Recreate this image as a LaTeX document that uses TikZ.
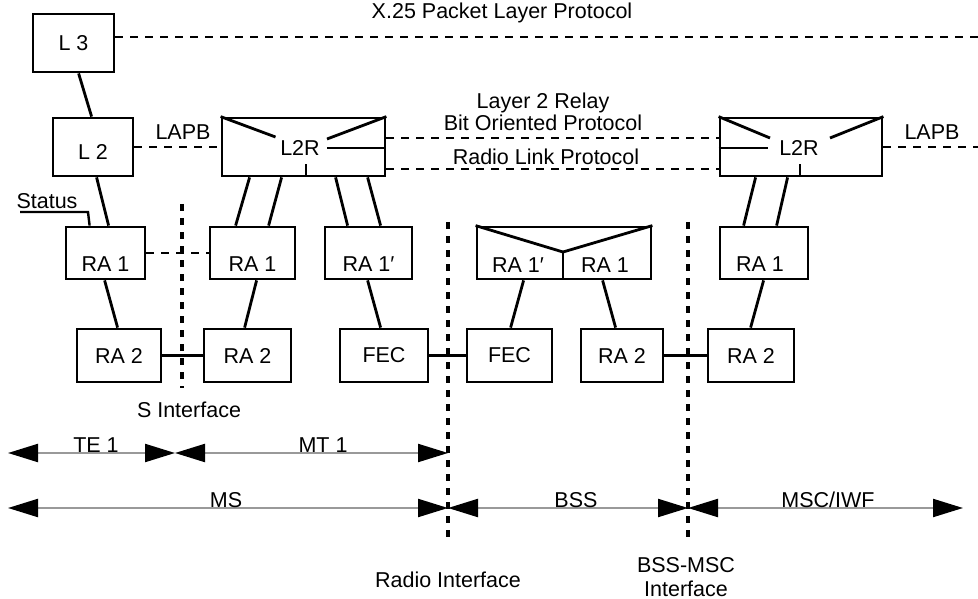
\documentclass[tikz,border=0pt]{standalone}
\usepackage{fontspec}
\setmainfont{Liberation Sans}
\usetikzlibrary{arrows.meta,calc}
\begin{document}
\begin{tikzpicture}[x=1pt,y=-1pt,
  txt/.style={font=\fontsize{21.5}{24}\selectfont, inner sep=0pt},
  box/.style={draw, line width=2.8pt, inner sep=0pt, txt},
  conn/.style={line width=2.8pt},
  dsh/.style={line width=2.8pt, dash pattern=on 8pt off 7pt},
  ifc/.style={line width=3.2pt, dash pattern=on 7pt off 7pt},
  span/.style={draw=black!40, line width=2.2pt, {Triangle[length=30pt,width=18pt,color=black,fill=black]}-{Triangle[length=30pt,width=18pt,color=black,fill=black]}},
]
\useasboundingbox (0,0) rectangle (978,599);

% ---- interface lines
\coordinate (sT) at (182,204); \coordinate (sB) at (182,388);
\coordinate (rT) at (448,222); \coordinate (rB) at (448,540);
\coordinate (bT) at (688,222); \coordinate (bB) at (688,540);
\draw[ifc] (sT) -- (sB);
\draw[ifc] (rT) -- (rB);
\draw[ifc] (bT) -- (bB);

% ---- boxes
\node[box, minimum width=81pt, minimum height=58pt] (l3) at (73.5,43) {L 3};
\node[box, minimum width=80pt, minimum height=58pt, label={[txt,yshift=-5pt]center:L 2}] (l2) at (93,147) {};
\node[box, minimum width=163pt, minimum height=58pt] (l2rl) at (303.5,147) {};
\node[box, minimum width=162pt, minimum height=58pt] (l2rr) at (801,147) {};

\node[box, minimum width=79pt, minimum height=52pt, label={[txt,yshift=-11pt]center:RA 1}] (ra1a) at (105.5,253) {};
\node[box, minimum width=85pt, minimum height=52pt, label={[txt,yshift=-11pt]center:RA 1}] (ra1b) at (252.5,253) {};
\node[box, minimum width=87pt, minimum height=52pt, label={[txt,yshift=-11pt]center:RA 1′}] (ra1p) at (368.5,253) {};
\node[box, minimum width=174pt, minimum height=52pt] (combo) at (564,253) {};
\node[box, minimum width=88pt, minimum height=52pt, label={[txt,yshift=-11pt,xshift=-4pt]center:RA 1}] (ra1r) at (764,253) {};

\node[box, minimum width=84pt, minimum height=53pt] (ra2a) at (119,355.5) {RA 2};
\node[box, minimum width=87pt, minimum height=53pt] (ra2b) at (247.5,355.5) {RA 2};
\node[box, minimum width=88pt, minimum height=53pt] (feca) at (384,355.5) {FEC};
\node[box, minimum width=85pt, minimum height=53pt] (fecb) at (509.5,355.5) {FEC};
\node[box, minimum width=82pt, minimum height=53pt] (ra2c) at (622,355.5) {RA 2};
\node[box, minimum width=86pt, minimum height=53pt] (ra2d) at (751,355.5) {RA 2};

% ---- L2R inner structure (left)
\node[txt] (l2rlt) at (300,148) {L2R};
\draw[conn] (l2rl.north west) -- ($(l2rl.center)+(-28,-10)$);
\draw[conn] (l2rl.north east) -- ($(l2rl.center)+(23.5,-8)$);
\draw[conn] ($(l2rl.center)+(23.5,1)$) -- ($(l2rl.east)+(0,1)$);
\draw[conn] ($(l2rl.south)+(2.5,-13)$) -- ($(l2rl.south)+(2.5,0)$);
% ---- L2R inner structure (right)
\node[txt] (l2rrt) at (799,148) {L2R};
\draw[conn] (l2rr.north west) -- ($(l2rr.center)+(-31,-9)$);
\draw[conn] (l2rr.north east) -- ($(l2rr.center)+(29,-9)$);
\draw[conn] ($(l2rr.west)+(0,1)$) -- ($(l2rr.center)+(-33,1)$);
\draw[conn] ($(l2rr.south)+(-1,-13)$) -- ($(l2rr.south)+(-1,0)$);
% ---- combined RA 1' / RA 1 box
\draw[conn] (combo.north west) -- ($(combo.center)+(-1,-1)$) -- (combo.north east);
\draw[conn] ($(combo.center)+(-1,-1)$) -- ($(combo.south)+(-1,0)$);
\node[txt] (cra1p) at (518,265) {RA 1′};
\node[txt] (cra1) at (605,265) {RA 1};

% ---- solid connectors
\draw[conn] ([xshift=47pt]l3.south west) -- ([xshift=40pt]l2.north west);
\draw[conn] ([xshift=45pt]l2.south west) -- ([xshift=44pt]ra1a.north west);
\draw[conn] ([xshift=40pt]ra1a.south west) -- ([xshift=42pt]ra2a.north west);
\draw[conn] (ra2a.east) -- (ra2b.west);
\draw[conn] ([xshift=48pt]ra1b.south west) -- ([xshift=42pt]ra2b.north west);
\draw[conn] ([xshift=29pt]l2rl.south west) -- ([xshift=27pt]ra1b.north west);
\draw[conn] ([xshift=61pt]l2rl.south west) -- ([xshift=60pt]ra1b.north west);
\draw[conn] ([xshift=115pt]l2rl.south west) -- ([xshift=24pt]ra1p.north west);
\draw[conn] ([xshift=147pt]l2rl.south west) -- ([xshift=57pt]ra1p.north west);
\draw[conn] ([xshift=44pt]ra1p.south west) -- ([xshift=42pt]feca.north west);
\draw[conn] (feca.east) -- (fecb.west);
\draw[conn] ([xshift=48pt]combo.south west) -- ([xshift=45pt]fecb.north west);
\draw[conn] ([xshift=127pt]combo.south west) -- ([xshift=36pt]ra2c.north west);
\draw[conn] (ra2c.east) -- (ra2d.west);
\draw[conn] ([xshift=45pt]ra1r.south west) -- ([xshift=44pt]ra2d.north west);
\draw[conn] ([xshift=37pt]l2rr.south west) -- ([xshift=25pt]ra1r.north west);
\draw[conn] ([xshift=69pt]l2rr.south west) -- ([xshift=58pt]ra1r.north west);

% ---- Status
\node[txt] (status) at (47,201) {Status};
\coordinate (stbend) at (88,212);
\draw[line width=2.4pt] (20,212) -- (stbend) -- ([xshift=25pt]ra1a.north west);

% ---- dashed protocol lines
\coordinate (x25end) at (978,37);
\coordinate (lapbend) at (978,147);
\draw[dsh] ([yshift=6pt]l3.east) -- (x25end);
\draw[dsh] (l2.east) -- (l2rl.west);
\draw[dsh] ([yshift=9pt]l2rl.east) -- ([yshift=9pt]l2rr.west);
\draw[dsh] ([yshift=-22pt]l2rl.east) -- ([yshift=-22pt]l2rr.west);
\draw[dsh] (l2rr.east) -- (lapbend);
\draw[dsh] (ra1a.east) -- (ra1b.west);

% ---- protocol labels
\node[txt] (x25) at (502,13) {X.25 Packet Layer Protocol};
\node[txt] (lapbl) at (183,132) {LAPB};
\node[txt] (lapbr) at (932,132) {LAPB};
\node[txt] (relay) at (543,103) {Layer 2 Relay};
\node[txt] (bop) at (543,123) {Bit Oriented Protocol};
\node[txt] (rlp) at (546,157) {Radio Link Protocol};

% ---- interface labels
\node[txt] (sif) at (189,410) {S Interface};
\node[txt] (rif) at (448,580) {Radio Interface};
\node[txt, align=center] (bif) at (686,577) {BSS-MSC\\Interface};

% ---- span arrows
\coordinate (a1) at (8,453); \coordinate (a2) at (175,453); \coordinate (a3) at (448,453);
\coordinate (m1) at (8,508); \coordinate (m2) at (448,508); \coordinate (m3) at (688,508); \coordinate (m4) at (963,508);
\draw[span] (a1) -- (a2);
\draw[span] (a2) -- (a3);
\draw[span] (m1) -- (m2);
\draw[span] (m2) -- (m3);
\draw[span] (m3) -- (m4);
\node[txt] (te1) at (96,445) {TE 1};
\node[txt] (mt1) at (323,445) {MT 1};
\node[txt] (ms) at (226,500) {MS};
\node[txt] (bss) at (576,500) {BSS};
\node[txt] (msc) at (828,500) {MSC/IWF};
\end{tikzpicture}
\end{document}
